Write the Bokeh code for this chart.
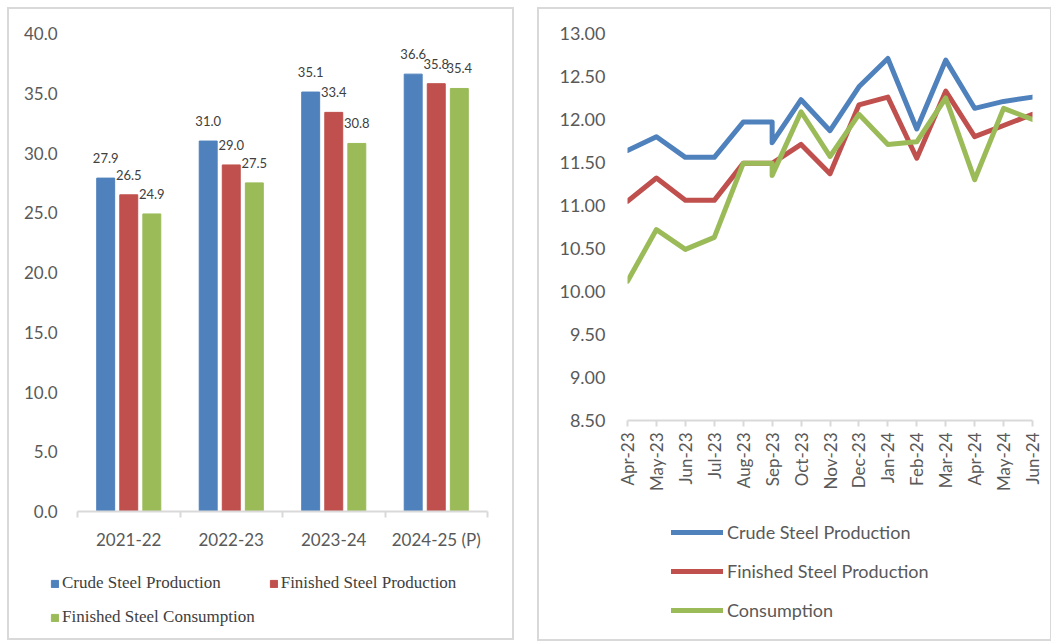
from bokeh.plotting import figure
from bokeh.models import (ColumnDataSource, FixedTicker, Legend, LegendItem, Range1d,
                          NumeralTickFormatter)
from bokeh.layouts import row, column
from bokeh.transform import dodge
from bokeh.core.properties import value
from bokeh.embed import file_html
from bokeh.resources import INLINE
import math

# ---------------- data ----------------
years = ["2021-22", "2022-23", "2023-24", "2024-25 (P)"]
crude = [27.9, 31.0, 35.1, 36.6]
finished = [26.5, 29.0, 33.4, 35.8]
consumption = [24.9, 27.5, 30.8, 35.4]
bar_series = ["Crude Steel Production", "Finished Steel Production", "Finished Steel Consumption"]

months = ["Apr-23", "May-23", "Jun-23", "Jul-23", "Aug-23", "Sep-23", "Oct-23", "Nov-23",
          "Dec-23", "Jan-24", "Feb-24", "Mar-24", "Apr-24", "May-24", "Jun-24"]
point_months = ["Apr-23", "May-23", "Jun-23", "Jul-23", "Aug-23", "Sep-23", "Sep-23", "Oct-23",
                "Nov-23", "Dec-23", "Jan-24", "Feb-24", "Mar-24", "Apr-24", "May-24", "Jun-24"]
crude_m = [11.64, 11.80, 11.56, 11.56, 11.97, 11.97, 11.73, 12.23, 11.87, 12.38, 12.71, 11.89,
           12.69, 12.13, 12.21, 12.26]
finished_m = [11.05, 11.32, 11.06, 11.06, 11.49, 11.49, 11.49, 11.71, 11.37, 12.17, 12.26, 11.55,
              12.33, 11.80, 11.93, 12.06]
consumption_m = [10.12, 10.72, 10.49, 10.63, 11.49, 11.49, 11.35, 12.09, 11.57, 12.06, 11.71, 11.74,
                 12.25, 11.30, 12.13, 12.00]
line_series = ["Crude Steel Production", "Finished Steel Production", "Consumption"]

BLUE, RED, GREEN = "#4F81BD", "#C0504D", "#9BBB59"
AXIS_GREY = "#D9D9D9"
TEXT_GREY = "#595959"
FONT = "Lato"
BORDER = {"border": "2px solid #D9D9D9"}
NAN = float("nan")


def legend_figure(width, height):
    f = figure(width=width, height=height, x_range=Range1d(0, 1), y_range=Range1d(0, 1),
               x_axis_location=None, y_axis_location=None, output_backend="svg",
               toolbar_location=None, min_border=0)
    f.frame_align = False
    f.outline_line_color = None
    f.xgrid.visible = False
    f.ygrid.visible = False
    return f


# ---------------- left: bar chart ----------------
src = ColumnDataSource(dict(
    x=[i + 0.5 for i in range(len(years))],
    crude=crude, finished=finished, consumption=consumption,
    crude_t=[f"{v:.1f}" for v in crude],
    finished_t=[f"{v:.1f}" for v in finished],
    consumption_t=[f"{v:.1f}" for v in consumption],
))

p1 = figure(width=503, frame_width=410, frame_height=478, x_range=Range1d(0, len(years)),
            y_range=Range1d(0, 40), output_backend="svg", toolbar_location=None,
            min_border_left=68, min_border_top=24, min_border_right=25, min_border_bottom=50)
p1.frame_align = False
p1.outline_line_color = None
p1.xgrid.visible = False
p1.ygrid.visible = False

off = 0.225
bw = 0.175
colors = [BLUE, RED, GREEN]
cols = ["crude", "finished", "consumption"]
offsets = [-off, 0, off]
for col, o, c in zip(cols, offsets, colors):
    p1.vbar(x=dodge("x", o), top=col, width=bw, source=src, color=c)
    p1.text(x=dodge("x", o), y=col, text=col + "_t", source=src, text_align="center",
            text_baseline="middle", y_offset=-20, text_font=value(FONT),
            text_font_size="13px", text_color="#404040")

xa = p1.xaxis[0]
xa.ticker = FixedTicker(ticks=[i + 0.5 for i in range(len(years))],
                        minor_ticks=list(range(len(years) + 1)))
xa.major_label_overrides = {i + 0.5: y for i, y in enumerate(years)}
xa.major_tick_line_color = None
xa.major_tick_out = 0
xa.major_tick_in = 0
xa.minor_tick_line_color = AXIS_GREY
xa.minor_tick_line_width = 2
xa.minor_tick_out = 6
xa.minor_tick_in = 0
xa.axis_line_color = AXIS_GREY
xa.axis_line_width = 2
xa.major_label_text_font = FONT
xa.major_label_text_font_size = "17px"
xa.major_label_text_color = TEXT_GREY
xa.major_label_standoff = 11

ya = p1.yaxis[0]
ya.ticker = FixedTicker(ticks=[i * 5 for i in range(9)])
ya.formatter = NumeralTickFormatter(format="0.0")
ya.axis_line_color = None
ya.major_tick_line_color = None
ya.minor_tick_line_color = None
ya.major_label_text_font = FONT
ya.major_label_text_font_size = "17px"
ya.major_label_text_color = TEXT_GREY
ya.major_label_standoff = 14

# legend below the bar chart
lf1 = legend_figure(503, 77)
items1 = []
for name, c in zip(bar_series, colors):
    r = lf1.vbar(x=[NAN], top=[NAN], width=0.1, color=c)
    items1.append(LegendItem(label=name, renderers=[r]))
leg1 = Legend(items=items1, orientation="horizontal", ncols=2, location=(41, 11),
              glyph_width=9, glyph_height=9, label_standoff=3, spacing=14,
              padding=0, margin=0, border_line_color=None, background_fill_alpha=0,
              label_text_font="Liberation Serif", label_text_font_size="17px",
              label_text_color="#404040")
lf1.add_layout(leg1, "center")

left_panel = column(p1, lf1, spacing=0, margin=(7, 0, 0, 7), styles=BORDER)

# ---------------- right: line chart ----------------
xs = [months.index(m) for m in point_months]
p2 = figure(width=511, frame_width=405, frame_height=387, x_range=Range1d(0, len(months) - 1),
            y_range=Range1d(8.5, 13.0), output_backend="svg", toolbar_location=None,
            min_border_left=88, min_border_top=24, min_border_right=18, min_border_bottom=75)
p2.frame_align = False
p2.outline_line_color = None
p2.xgrid.visible = False
p2.ygrid.visible = False

line_colors = [BLUE, RED, GREEN]
for ys, c in zip([crude_m, finished_m, consumption_m], line_colors):
    p2.line(xs, ys, line_color=c, line_width=5, line_join="round", line_cap="round")

xa2 = p2.xaxis[0]
xa2.ticker = FixedTicker(ticks=list(range(len(months))))
xa2.major_label_overrides = {i: m for i, m in enumerate(months)}
xa2.major_label_orientation = math.pi / 2
xa2.major_tick_line_color = AXIS_GREY
xa2.major_tick_line_width = 2
xa2.major_tick_out = 6
xa2.major_tick_in = 0
xa2.minor_tick_line_color = None
xa2.axis_line_color = AXIS_GREY
xa2.axis_line_width = 2
xa2.major_label_text_font = FONT
xa2.major_label_text_font_size = "17px"
xa2.major_label_text_color = TEXT_GREY
xa2.major_label_standoff = 6

ya2 = p2.yaxis[0]
ya2.ticker = FixedTicker(ticks=[8.5 + 0.5 * i for i in range(10)])
ya2.formatter = NumeralTickFormatter(format="0.00")
ya2.axis_line_color = None
ya2.major_tick_line_color = None
ya2.minor_tick_line_color = None
ya2.major_label_text_font = FONT
ya2.major_label_text_font_size = "18px"
ya2.major_label_text_color = TEXT_GREY
ya2.major_label_standoff = 16

lf2 = legend_figure(511, 144)
items2 = []
for name, c in zip(line_series, line_colors):
    r = lf2.line(x=[NAN, NAN], y=[NAN, NAN], line_color=c, line_width=5, line_cap="round")
    items2.append(LegendItem(label=name, renderers=[r]))
leg2 = Legend(items=items2, orientation="vertical", location=(132, 18),
              glyph_width=52, glyph_height=20, label_standoff=4, spacing=17,
              padding=0, margin=0, border_line_color=None, background_fill_alpha=0,
              label_text_font=FONT, label_text_font_size="18px", label_text_color=TEXT_GREY)
lf2.add_layout(leg2, "center")

right_panel = column(p2, lf2, spacing=0, margin=(7, 0, 0, 23), styles=BORDER)

layout = row(left_panel, right_panel, spacing=0)
open("out.html", "w").write(file_html(layout, INLINE))
